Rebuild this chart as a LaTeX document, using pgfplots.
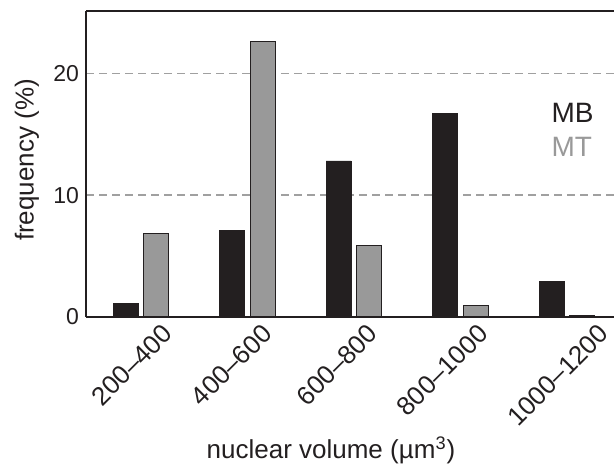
\documentclass[border=0pt]{standalone}
\usepackage{fontspec}
\setmainfont{Liberation Sans}
\usepackage{pgfplots}
\pgfplotsset{compat=1.18}
\definecolor{mb}{HTML}{231F20}
\definecolor{mt}{HTML}{999999}
\definecolor{gridc}{HTML}{A0A0A0}
\begin{document}
\begin{tikzpicture}
\begin{axis}[name=ax, scale only axis, width=264pt, height=153pt,
  xmin=-0.516, xmax=4.442, ymin=0, ymax=25.1,
  axis x line=box, axis y line*=left,
  axis line style={-, line width=1pt, color=mb},
  every outer y axis line/.append style={-},
  major tick length=0pt,
  ytick={0,10,20},
  xtick={0.141,1.075,2.066,3.103,4.235},
  xticklabels={200--400,400--600,600--800,800--1000,1000--1200},
  /pgf/number format/assume math mode=true,
  yticklabel style={font=\fontsize{11.5}{13}\selectfont, text=mb},
  xticklabel style={font=\fontsize{13}{15}\selectfont, text=mb, rotate=45, anchor=east, inner sep=0pt, yshift=-8.5pt},
  ymajorgrids, grid style={gridc, dash pattern=on 4pt off 2.5pt, line width=0.6pt},
  ylabel={frequency (\%)},
  ylabel style={font=\fontsize{13}{15}\selectfont, text=mb, at={(axis description cs:-0.112,0.513)}, anchor=center},
  xlabel={nuclear volume (µm\textsuperscript{3})},
  xlabel style={font=\fontsize{13}{15}\selectfont, text=mb, at={(axis description cs:0.464,-0.435)}, anchor=center},
]
\addplot[ybar, bar width=12.5pt, bar shift=-7.6pt, fill=mb, draw=mb, line width=0.4pt]
  coordinates {(0,1.1) (1,7.1) (2,12.8) (3,16.7) (4,2.95)};
\addplot[ybar, bar width=12.5pt, bar shift=7.6pt, fill=mt, draw=mb, line width=0.6pt]
  coordinates {(0,6.85) (1,22.6) (2,5.85) (3,0.95) (4,0.12)};
\node[anchor=west, text=mb, font=\fontsize{14}{16}\selectfont, inner sep=0pt] at (axis description cs:0.881,0.667) {MB};
\node[anchor=west, text=mt, font=\fontsize{14}{16}\selectfont, inner sep=0pt] at (axis description cs:0.881,0.556) {MT};
\end{axis}
\pgfresetboundingbox
\path ([xshift=-43pt,yshift=-74.5pt]ax.south west) rectangle ([yshift=5.5pt]ax.north east);
\end{tikzpicture}
\end{document}
